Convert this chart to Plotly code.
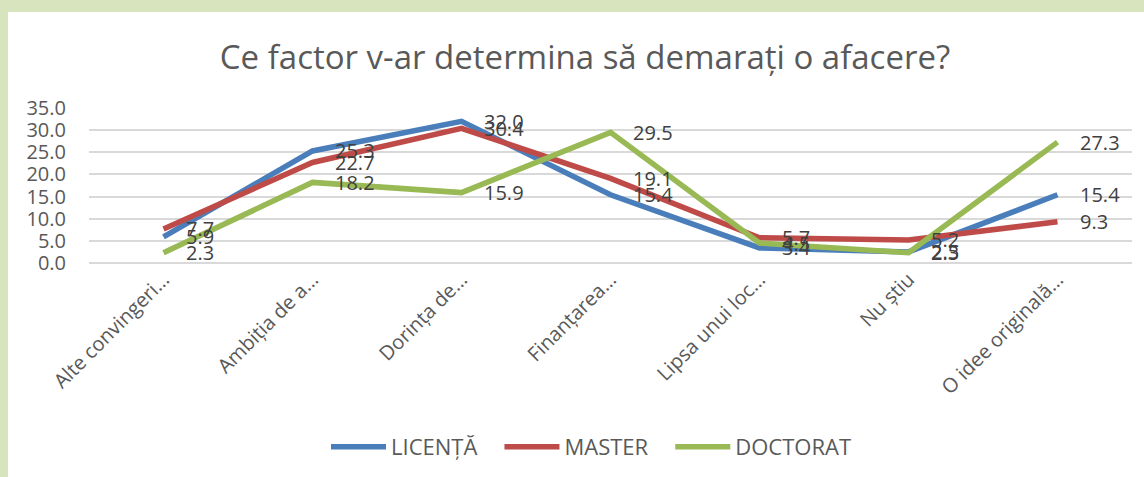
import plotly.graph_objects as go

categories = ["Alte convingeri…", "Ambiția de a…", "Dorința de…", "Finanțarea…",
              "Lipsa unui loc…", "Nu știu", "O idee originală…"]
licenta = [5.9, 25.3, 32.0, 15.4, 3.4, 2.5, 15.4]
master = [7.7, 22.7, 30.4, 19.1, 5.7, 5.2, 9.3]
doctorat = [2.3, 18.2, 15.9, 29.5, 4.5, 2.3, 27.3]
series_names = ["LICENȚĂ", "MASTER", "DOCTORAT"]
colors = ["#4A7EBB", "#BE4B48", "#98B954"]

W, H = 1144, 477
L, R, T, B = 89, 12, 108, 214
pw, ph = W - L - R, H - T - B
FONT = "Open Sans"
NB = "\u00a0"


def px_x(p):
    return (p - L) / pw


def px_y(p):
    return (H - B - p) / ph


fig = go.Figure()
annotations = []
for name, vals, c in zip(series_names, [licenta, master, doctorat], colors):
    fig.add_trace(go.Scatter(
        x=categories, y=vals, name=name + NB * 3, mode="lines",
        line=dict(color=c, width=5.5),
    ))
    for cat, v in zip(categories, vals):
        annotations.append(dict(
            x=cat, y=v, xref="x", yref="y", text=f"{v:.1f}", showarrow=False,
            xanchor="left", yanchor="middle", xshift=20,
            font=dict(family=FONT, size=20, color="#404040"),
        ))

fig.update_layout(
    width=W, height=H,
    margin=dict(l=L, r=R, t=T, b=B, autoexpand=False),
    paper_bgcolor="#D7E4BD",
    plot_bgcolor="rgba(0,0,0,0)",
    title=dict(text="Ce factor v-ar determina să demarați o afacere?",
               x=585 / W, xanchor="center", y=1 - 57 / H, yanchor="middle",
               font=dict(family=FONT, size=33, color="#595959")),
    xaxis=dict(tickangle=-45, showgrid=False, showline=False, ticks="",
               tickfont=dict(family=FONT, size=20, color="#595959"),
               range=[-0.5, 6.5], automargin=False),
    yaxis=dict(range=[0, 35], dtick=5, tickformat=".1f", gridcolor="#D9D9D9",
               gridwidth=1.5, zeroline=True, zerolinecolor="#D9D9D9", zerolinewidth=1.5,
               tickfont=dict(family=FONT, size=20, color="#595959"),
               ticks="", ticklabelstandoff=22, automargin=False),
    legend=dict(orientation="h", x=px_x(326), xanchor="left", y=px_y(447), yanchor="middle",
                font=dict(family=FONT, size=22, color="#595959"),
                itemwidth=55, bgcolor="rgba(0,0,0,0)"),
    annotations=annotations,
    shapes=[dict(type="rect", xref="paper", yref="paper",
                 x0=px_x(8), x1=px_x(W + 5), y0=px_y(H + 5), y1=px_y(12),
                 fillcolor="white", line=dict(width=0), layer="below")],
)

fig.write_html(
    "out.html",
    config={"displayModeBar": False},
    post_script="document.body.style.margin='0';document.body.style.overflow='hidden';",
)
